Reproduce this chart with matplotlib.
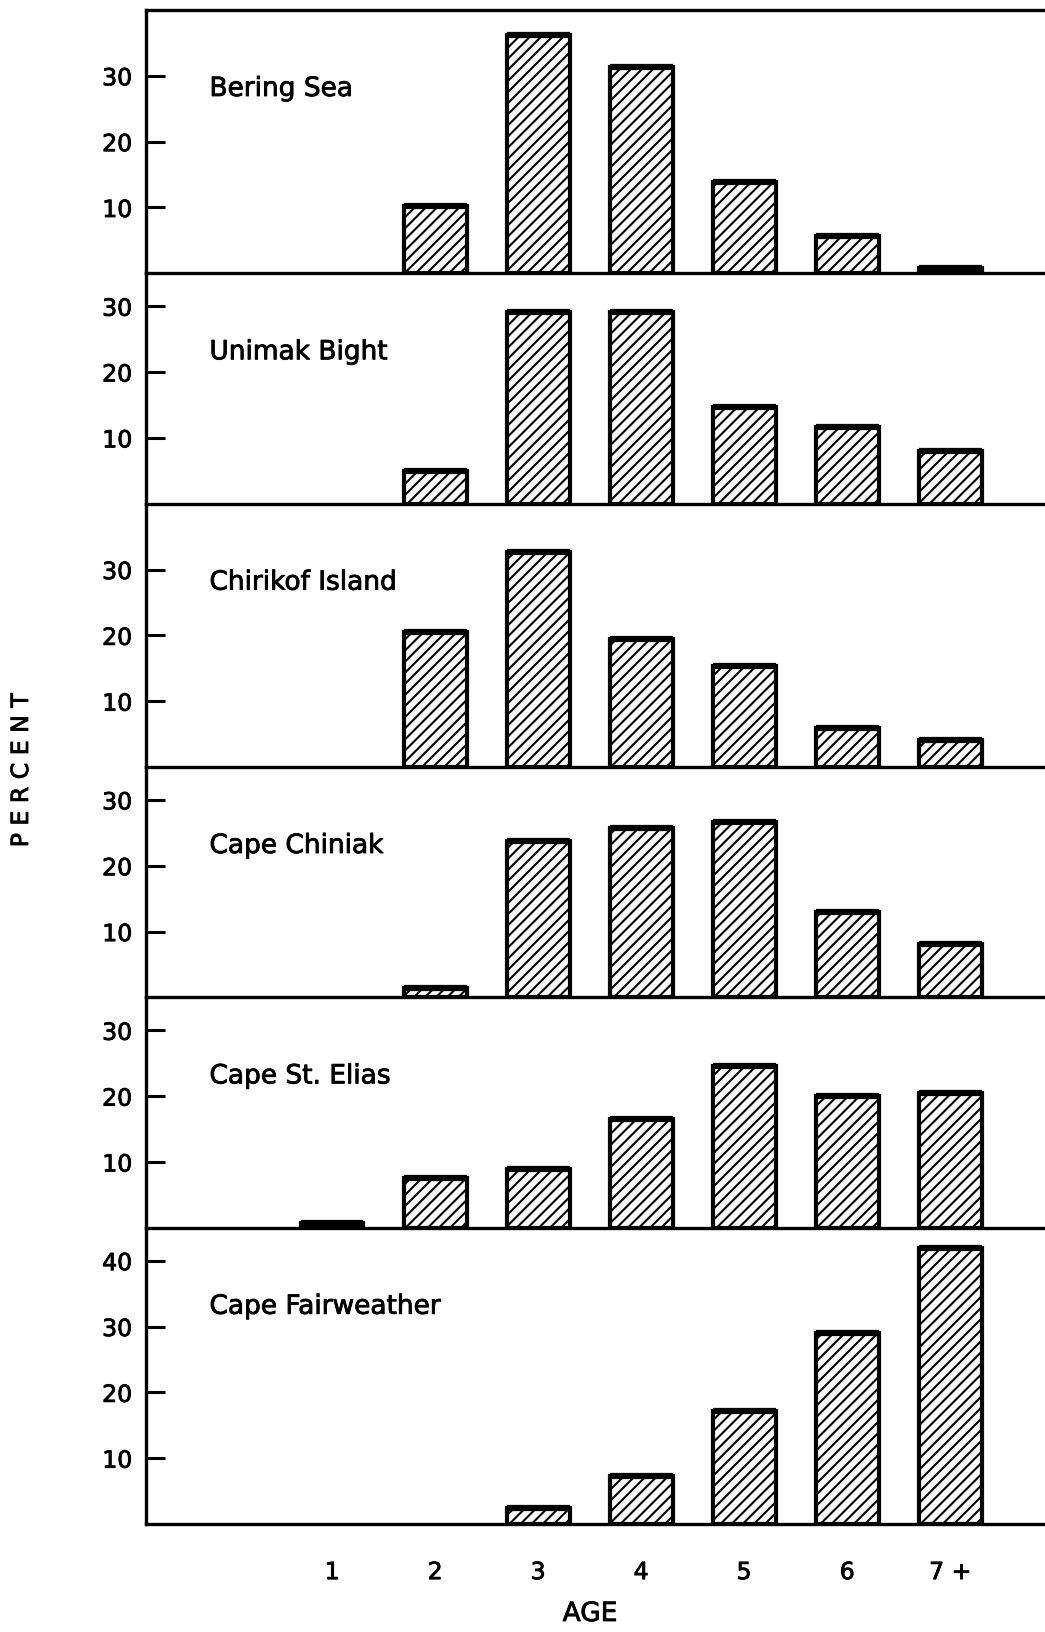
import matplotlib
matplotlib.use('Agg')
import matplotlib.pyplot as plt
import matplotlib.patheffects as pe
import numpy as np

# Age composition (percent) by area
ages = [1, 2, 3, 4, 5, 6, 7]
age_labels = ['1', '2', '3', '4', '5', '6', '7 +']

areas = ['Bering Sea', 'Unimak Bight', 'Chirikof Island',
         'Cape Chiniak', 'Cape St. Elias', 'Cape Fairweather']

bering_sea = [0, 10.2, 36.2, 31.4, 13.8, 5.6, 0.8]
unimak_bight = [0, 5.0, 29.1, 29.1, 14.7, 11.7, 8.0]
chirikof_island = [0, 20.5, 32.6, 19.5, 15.4, 5.9, 4.1]
cape_chiniak = [0, 1.4, 23.8, 25.8, 26.6, 12.9, 8.1]
cape_st_elias = [0.8, 7.5, 8.9, 16.6, 24.6, 20.0, 20.5]
cape_fairweather = [0, 0, 2.4, 7.3, 17.1, 29.0, 42.0]

series = [bering_sea, unimak_bight, chirikof_island,
          cape_chiniak, cape_st_elias, cape_fairweather]
y_tops = [40, 35, 40, 35, 35, 45]
y_ticks = [[10, 20, 30]] * 5 + [[10, 20, 30, 40]]

plt.rcParams['font.family'] = 'DejaVu Sans'
plt.rcParams['hatch.linewidth'] = 1.5

# heavier strokes, like the printed original
heavy = [pe.withStroke(linewidth=0.6, foreground='black')]

fig = plt.figure(figsize=(10.45, 16.33), dpi=100)
gs = fig.add_gridspec(6, 1, height_ratios=y_tops, hspace=0,
                      left=146/1045, right=1.0,
                      top=1 - 11/1633, bottom=1 - 1525/1633)

x = np.array(ages)
w = 0.61
for i in range(6):
    ax = fig.add_subplot(gs[i])
    ax.patch.set_visible(False)
    vals = np.array(series[i])
    show = vals > 0
    ax.bar(x[show], vals[show], width=w, facecolor='white',
           edgecolor='black', linewidth=3.0, hatch='///', zorder=2)
    ax.hlines(vals[show], x[show] - w/2, x[show] + w/2,
              color='black', linewidth=4.5, zorder=3)
    ax.set_xlim(-0.806, 7.92)
    ax.set_ylim(0, y_tops[i])
    ax.set_yticks(y_ticks[i])
    ax.tick_params(axis='y', direction='in', length=14, width=2.2,
                   labelsize=17, pad=10)
    ax.spines['right'].set_visible(False)
    ax.spines['top'].set_visible(i == 0)
    for s in ['left', 'bottom', 'top']:
        ax.spines[s].set_linewidth(2.4)
        ax.spines[s].set_zorder(4)
    ax.text(-0.19, y_tops[i] - 12, areas[i], fontsize=19,
            va='center', ha='left', path_effects=heavy)
    if i == 5:
        ax.set_xticks(ages)
        ax.set_xticklabels(age_labels)
        ax.tick_params(axis='x', length=0, labelsize=17, pad=26)
    else:
        ax.set_xticks([])
    for lab in ax.get_yticklabels() + ax.get_xticklabels():
        lab.set_path_effects(heavy)

fig.text(21/1045, 1 - 771/1633, 'P E R C E N T', rotation=90,
         fontsize=17, ha='center', va='center', path_effects=heavy)
fig.text(590/1045, 1 - 1615/1633, 'AGE', fontsize=19,
         ha='center', va='center', path_effects=heavy)

fig.savefig('out.png', dpi=100)
